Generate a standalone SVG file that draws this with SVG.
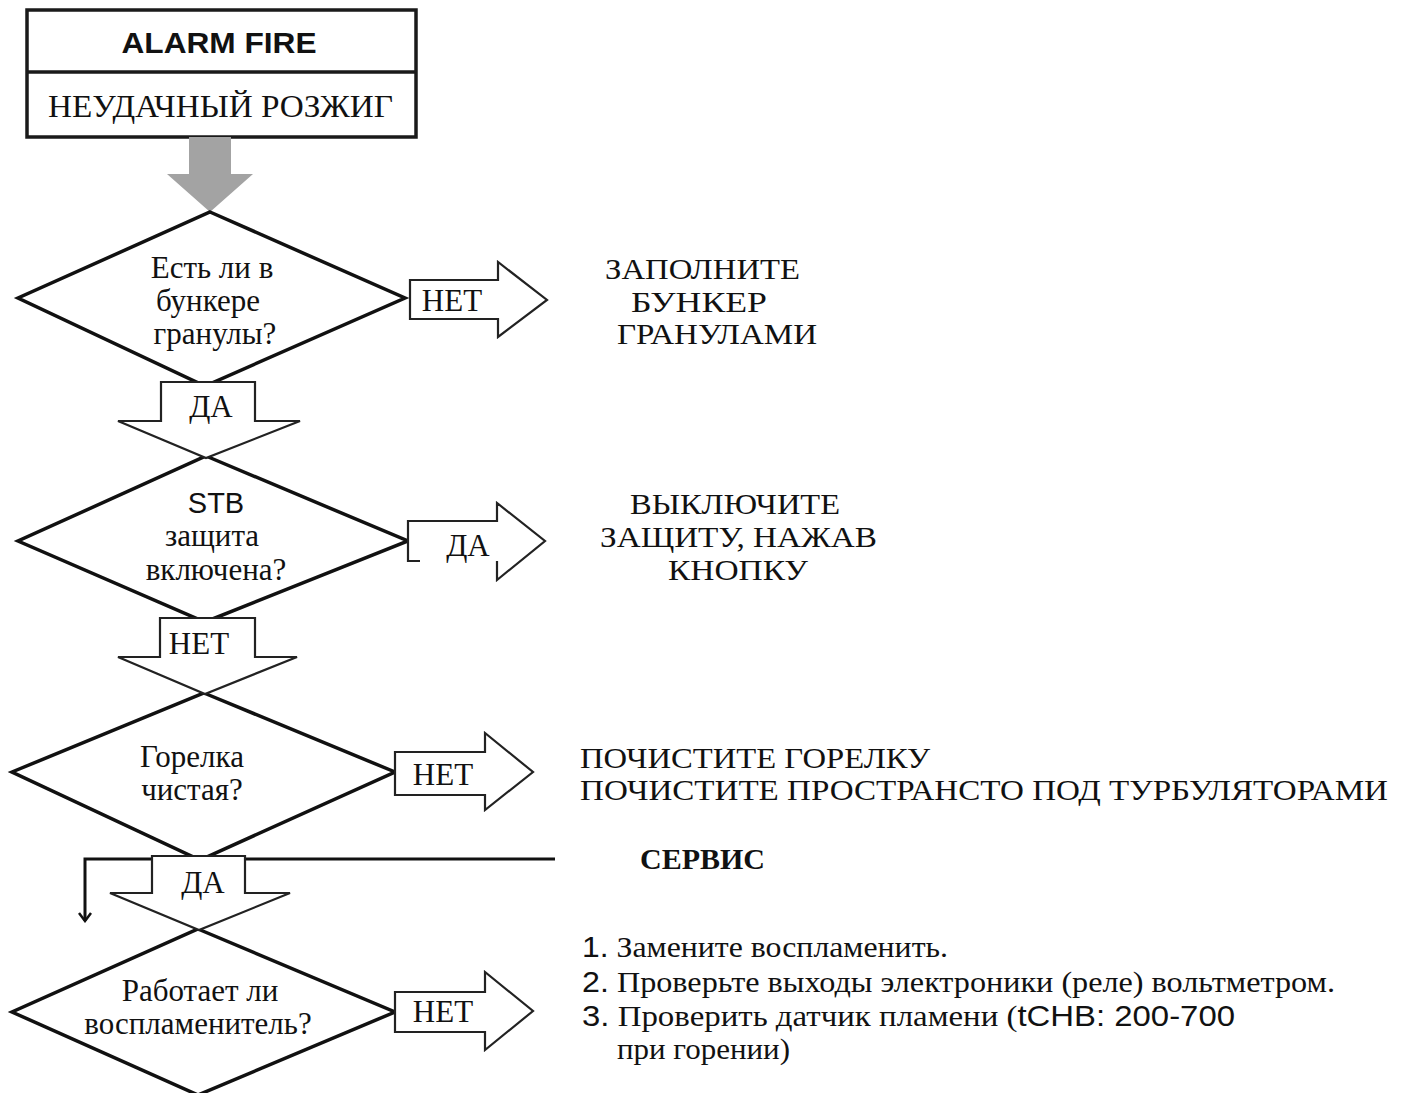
<svg xmlns="http://www.w3.org/2000/svg" width="1409" height="1093" viewBox="0 0 1409 1093">
<defs>
<style>
.bg{fill:#ffffff}
.box{fill:#ffffff;stroke:#1a1a1a;stroke-width:3.5}
.dia{fill:#ffffff;stroke:#111111;stroke-width:3.5;stroke-linejoin:miter}
.arr{fill:#ffffff;stroke:#222222;stroke-width:2.2;stroke-linejoin:miter}
.fillw{fill:#ffffff;stroke:none}
.ln{fill:none;stroke:#222222;stroke-width:2.2}
.conn{fill:none;stroke:#111111;stroke-width:3}
.ser{font-family:"Liberation Serif","Times New Roman",serif;fill:#111111}
.sans{font-family:"Liberation Sans",Arial,sans-serif;fill:#111111}
.q{font-size:31px}
.lb{font-size:31px}
.t30{font-size:30px}
.mid{text-anchor:middle}
</style>
<marker id="open" viewBox="0 0 14 14" refX="12" refY="7" markerWidth="14" markerHeight="14" markerUnits="userSpaceOnUse" orient="auto">
<path d="M4,1 L12,7 L4,13" fill="none" stroke="#111111" stroke-width="2.5"/>
</marker>
</defs>
<rect class="bg" x="0" y="0" width="1409" height="1093"/>

<g id="start">
<rect class="box" x="27" y="10" width="389" height="127"/>
<line x1="27" y1="72" x2="416" y2="72" stroke="#1a1a1a" stroke-width="3.5"/>
<text class="sans" x="219" y="53" font-size="29" font-weight="bold" text-anchor="middle" textLength="195" lengthAdjust="spacingAndGlyphs">ALARM FIRE</text>
<text class="ser" x="48" y="117" font-size="31" textLength="345" lengthAdjust="spacingAndGlyphs">НЕУДАЧНЫЙ РОЗЖИГ</text>
</g>

<g id="connectors">
<path id="gray-arrow" d="M189,137 L231,137 L231,174 L253,174 L210,212 L167,174 L189,174 Z" fill="#a3a3a3"/>
<path class="conn" d="M555,859 L85,859 L85,921" marker-end="url(#open)"/>
</g>

<g id="q1">
<polygon class="dia" points="210,212 405,298 205,386 18,298"/>
<text class="ser q mid" x="212" y="278">Есть ли в</text>
<text class="ser q mid" x="208" y="311">бункере</text>
<text class="ser q mid" x="215" y="344">гранулы?</text>
</g>

<g id="q2">
<polygon class="dia" points="206,456 408,541 205,622 18,541"/>
<text class="sans mid" x="216" y="513" font-size="29">STB</text>
<text class="ser q mid" x="212" y="546">защита</text>
<text class="ser q mid" x="216" y="580">включена?</text>
</g>

<g id="q3">
<polygon class="dia" points="204,693 395,772 200,860 12,772"/>
<text class="ser q mid" x="192" y="767">Горелка</text>
<text class="ser q mid" x="192" y="800">чистая?</text>
</g>

<g id="q4">
<polygon class="dia" points="198,929 395,1012 198,1095 12,1012"/>
<text class="ser q mid" x="200" y="1001">Работает ли</text>
<text class="ser q mid" x="198" y="1034">воспламенитель?</text>
</g>

<g id="yes1">
<path class="arr" d="M161,382 L255,382 L255,421 L300,421 L206,458 L118,421 L161,421 Z"/>
<text class="ser lb mid" x="211" y="417">ДА</text>
</g>

<g id="no2">
<path class="arr" d="M160,618 L255,618 L255,657 L297,657 L205,694 L118,657 L160,657 Z"/>
<text class="ser lb mid" x="199" y="654">НЕТ</text>
</g>

<g id="yes3">
<path class="arr" d="M152,856 L245,856 L245,893 L290,893 L199,930 L110,893 L152,893 Z"/>
<text class="ser lb mid" x="203" y="893">ДА</text>
</g>

<g id="no1">
<path class="arr" d="M410,280 L498,280 L498,262 L547,300 L498,337 L498,319 L410,319 Z"/>
<text class="ser lb mid" x="452" y="311">НЕТ</text>
</g>

<g id="yes2">
<path class="fillw" d="M408,521 L497,521 L497,503 L545,541 L497,580 L497,561 L408,561 Z"/>
<path class="ln" d="M420,561 L408,561 L408,521 L497,521 L497,503 L545,541 L497,580 L497,561"/>
<text class="ser lb mid" x="468" y="556">ДА</text>
</g>

<g id="no3">
<path class="arr" d="M395,752 L485,752 L485,733 L533,772 L485,810 L485,795 L395,795 Z"/>
<text class="ser lb mid" x="443" y="785">НЕТ</text>
</g>

<g id="no4">
<path class="arr" d="M395,992 L485,992 L485,972 L533,1011 L485,1050 L485,1032 L395,1032 Z"/>
<text class="ser lb mid" x="443" y="1022">НЕТ</text>
</g>

<g id="act1">
<text class="ser t30" x="605" y="279" textLength="195" lengthAdjust="spacingAndGlyphs">ЗАПОЛНИТЕ</text>
<text class="ser t30" x="631" y="312" textLength="136" lengthAdjust="spacingAndGlyphs">БУНКЕР</text>
<text class="ser t30" x="617" y="344" textLength="200" lengthAdjust="spacingAndGlyphs">ГРАНУЛАМИ</text>
</g>

<g id="act2">
<text class="ser t30" x="630" y="514" textLength="210" lengthAdjust="spacingAndGlyphs">ВЫКЛЮЧИТЕ</text>
<text class="ser t30" x="600" y="547" textLength="277" lengthAdjust="spacingAndGlyphs">ЗАЩИТУ, НАЖАВ</text>
<text class="ser t30" x="668" y="580" textLength="140" lengthAdjust="spacingAndGlyphs">КНОПКУ</text>
</g>

<g id="act3">
<text class="ser t30" x="580" y="768" textLength="350" lengthAdjust="spacingAndGlyphs">ПОЧИСТИТЕ ГОРЕЛКУ</text>
<text class="ser t30" x="580" y="800" textLength="808" lengthAdjust="spacingAndGlyphs">ПОЧИСТИТЕ ПРОСТРАНСТО ПОД ТУРБУЛЯТОРАМИ</text>
</g>

<g id="service">
<text class="ser" x="640" y="869" font-size="29" font-weight="bold" textLength="125" lengthAdjust="spacingAndGlyphs">СЕРВИС</text>
<text class="ser" x="582" y="957" font-size="30" textLength="366" lengthAdjust="spacingAndGlyphs"><tspan class="sans">1.</tspan> Замените воспламенить.</text>
<text class="ser" x="582" y="992" font-size="30" textLength="753" lengthAdjust="spacingAndGlyphs"><tspan class="sans">2.</tspan> Проверьте выходы электроники (реле) вольтметром.</text>
<text class="ser" x="582" y="1026" font-size="30" textLength="653" lengthAdjust="spacingAndGlyphs"><tspan class="sans">3.</tspan> Проверить датчик пламени (<tspan class="sans">tCHB: 200-700</tspan></text>
<text class="ser" x="617" y="1059" font-size="30" textLength="173" lengthAdjust="spacingAndGlyphs">при горении)</text>
</g>
</svg>
